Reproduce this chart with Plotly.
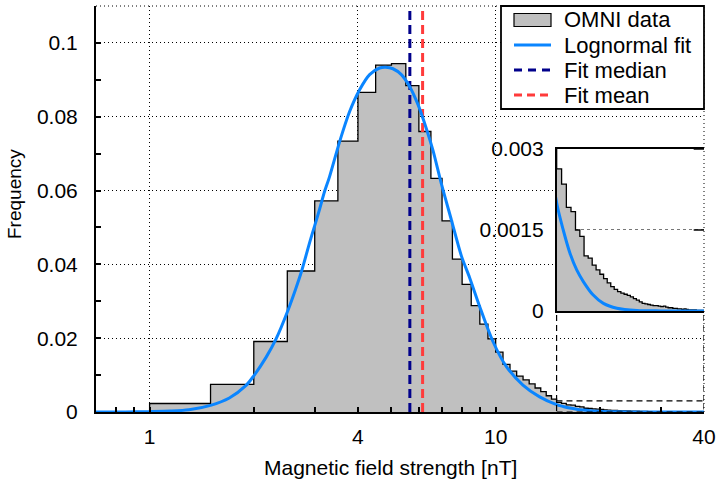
import numpy as np
import plotly.graph_objects as go

# ---------------- data ----------------
bin_start = 1.0
bin_width = 0.5
# histogram frequencies, bins of 0.5 nT starting at 1 nT (1..40 nT)
freq_core = [0.0023, 0.0075, 0.0191, 0.0382, 0.0572, 0.0734, 0.0866, 0.0940,
             0.0944, 0.0884, 0.0760, 0.0633, 0.0518, 0.0414, 0.0346, 0.0288,
             0.0238, 0.0198, 0.0162, 0.0129, 0.0111, 0.0097, 0.0087, 0.0076,
             0.0065, 0.0055, 0.0044, 0.0035]
freq_tail = [0.00263, 0.00235, 0.00192, 0.00184, 0.00150, 0.00138, 0.00102, 0.00098,
             0.00085, 0.00076, 0.00068, 0.00060, 0.00052, 0.00045, 0.00040, 0.00036,
             0.00033, 0.00031, 0.00029, 0.00026, 0.00023, 0.00020, 0.00017, 0.00014,
             0.00013, 0.00012, 0.00011, 0.00010, 0.00010, 0.00009, 0.00008, 0.00009,
             0.00007, 0.00006, 0.00006, 0.00005, 0.00005, 0.00004, 0.00004, 0.00003,
             0.00004, 0.00003, 0.00002, 0.00002, 0.00002, 0.00002, 0.00001, 0.00001,
             0.00001, 0.00001]

# lognormal fit curve
fit_x = [0.7, 0.85, 1.0, 1.15, 1.3, 1.5, 1.7, 1.9, 2.0, 2.17, 2.32, 2.51, 2.64, 2.75,
         2.9, 3.0, 3.1, 3.2, 3.31, 3.54, 3.785, 4.045, 4.323, 4.62, 4.81, 5.05, 5.34,
         5.64, 5.97, 6.3, 6.59, 6.97, 7.45, 7.96, 8.41, 8.99, 9.82, 10.74, 11.99, 13.4,
         15.0, 15.67, 16.39, 17.14, 17.93, 19.1, 20.47, 22.4, 25.6, 30.0, 35.0, 40.0]
fit_y = [0.0, 0.00001, 0.0001, 0.00025, 0.0006, 0.0018, 0.0038, 0.0072, 0.0098, 0.0148,
         0.0198, 0.0275, 0.0332, 0.0382, 0.0459, 0.0505, 0.0550, 0.0596, 0.0637, 0.0732,
         0.0814, 0.0873, 0.0914, 0.0932, 0.0934, 0.0930, 0.0914, 0.0882, 0.0832, 0.0769,
         0.0709, 0.0618, 0.0520, 0.0423, 0.0364, 0.0286, 0.0191, 0.0123, 0.0073, 0.0041,
         0.0020, 0.0015, 0.00107, 0.00076, 0.00054, 0.0003, 0.00014, 0.00005, 0.00001,
         0.000002, 0.0, 0.0]

fit_median = 5.65
fit_mean = 6.15

x_range = [0.7, 40.0]
y_range = [0.0, 0.11]
inset_x_range = [15.0, 40.0]
inset_y_range = [0.0, 0.003]

x_tickvals = [1, 4, 10, 40]
x_ticktext = ["1", "4", "10", "40"]
x_minor = [0.8, 0.9, 2, 3, 5, 6, 7, 8, 9, 20, 30]
inset_tickvals = [0, 0.0015, 0.003]
inset_ticktext = ["0", "0.0015", "0.003"]

legend_labels = ["OMNI data", "Lognormal fit", "Fit median", "Fit mean"]

# ---------------- styles ----------------
FONT = "Liberation Sans, Arial, Helvetica, sans-serif"
GREY = "#c0c0c0"
BLUE = "#0a85ff"
NAVY = "#00008b"
RED = "#ff3b3b"
DOT = "1px,3px"

freq = freq_core + freq_tail
edges = [bin_start + i * bin_width for i in range(len(freq) + 1)]
step_x = [edges[0]] + edges[:-1] + [edges[-1]]
step_y = [0.0] + freq + [freq[-1]]

fig = go.Figure()

for xa, ya in (("x", "y"), ("x2", "y2")):
    fig.add_trace(go.Scatter(x=step_x, y=step_y, mode="lines", line_shape="hv",
                             line=dict(color="black", width=1.3), fill="tozeroy",
                             fillcolor=GREY, xaxis=xa, yaxis=ya, showlegend=False,
                             hoverinfo="skip"))
    if xa == "x":
        fig.add_trace(go.Scatter(x=[fit_median, fit_median], y=y_range, mode="lines",
                                 line=dict(color=NAVY, width=3, dash="9px,5px"),
                                 showlegend=False))
        fig.add_trace(go.Scatter(x=[fit_mean, fit_mean], y=y_range, mode="lines",
                                 line=dict(color=RED, width=3, dash="9px,5px"),
                                 showlegend=False))
    fig.add_trace(go.Scatter(x=fit_x, y=fit_y, mode="lines", line_shape="spline",
                             line=dict(color=BLUE, width=3, smoothing=0.8),
                             xaxis=xa, yaxis=ya, showlegend=False))

# inset geometry (paper fractions)
inset_dx = [0.7577, 1.0]
inset_dy = [0.2488, 0.6478]

shapes = []
# white background of the inset (drawn in the inset subplot, above main grid)
shapes.append(dict(type="rect", xref="x2", yref="y2", x0=inset_x_range[0], x1=inset_x_range[1],
                   y0=inset_y_range[0], y1=inset_y_range[1], fillcolor="white",
                   line=dict(width=0), layer="below"))
# right ticks of the inset
for v in inset_tickvals[1:]:
    shapes.append(dict(type="line", xref="x2 domain", yref="y2", x0=0.93, x1=1.0, y0=v, y1=v,
                       line=dict(color="black", width=1.5), layer="above"))
# dotted top/right border of main axes
shapes.append(dict(type="line", xref="paper", yref="paper", x0=0, x1=1, y0=1, y1=1,
                   line=dict(color="black", width=1, dash=DOT), layer="above"))
shapes.append(dict(type="line", xref="paper", yref="paper", x0=1, x1=1, y0=0, y1=1,
                   line=dict(color="black", width=1, dash=DOT), layer="above"))
# zoom box and connectors
shapes.append(dict(type="rect", xref="x", yref="y", x0=inset_x_range[0], x1=inset_x_range[1],
                   y0=inset_y_range[0], y1=inset_y_range[1],
                   line=dict(color="black", width=1.2, dash="6px,4px"), layer="above"))
for xv in inset_x_range:
    shapes.append(dict(type="line", xref="x", yref="paper", x0=xv, x1=xv,
                       y0=inset_y_range[1] / y_range[1], y1=inset_dy[0],
                       line=dict(color="black", width=1.2, dash="6px,4px"), layer="above"))

# legend (manual)
def px2paper(px, py):
    return (px - 96) / 608.0, (412 - py) / 406.0

lx0, ly0 = px2paper(501, 6)
lx1, ly1 = px2paper(704, 109)
shapes.append(dict(type="rect", xref="paper", yref="paper", x0=lx0, x1=lx1, y0=ly1, y1=ly0,
                   fillcolor="white", line=dict(color="black", width=1.8), layer="above"))
row_y = [20, 45, 70, 95]
sx0, _ = px2paper(514, 0)
sx1, _ = px2paper(551, 0)
tx, _ = px2paper(562, 0)
_, r0a = px2paper(0, 13.5)
_, r0b = px2paper(0, 26.5)
shapes.append(dict(type="rect", xref="paper", yref="paper", x0=sx0, x1=sx1, y0=r0b, y1=r0a,
                   fillcolor=GREY, line=dict(color="black", width=1.2), layer="above"))
legend_styles = [None, dict(color=BLUE, width=3), dict(color=NAVY, width=3, dash="8px,6px"),
                 dict(color=RED, width=3, dash="8px,5px")]
annotations = []
for i, (lab, ry) in enumerate(zip(legend_labels, row_y)):
    _, py = px2paper(0, ry)
    if legend_styles[i] is not None:
        shapes.append(dict(type="line", xref="paper", yref="paper", x0=sx0, x1=sx1, y0=py, y1=py,
                           line=legend_styles[i], layer="above"))
    annotations.append(dict(xref="paper", yref="paper", x=tx, y=py, text=lab, showarrow=False,
                            xanchor="left", yanchor="middle",
                            font=dict(family=FONT, size=22, color="black")))

# axis titles
ax_, ay_ = px2paper(390, 467)
annotations.append(dict(xref="paper", yref="paper", x=ax_, y=ay_, text="Magnetic field strength [nT]",
                        showarrow=False, xanchor="center", yanchor="middle",
                        font=dict(family=FONT, size=21, color="black")))
bx_, by_ = px2paper(14, 194)
annotations.append(dict(xref="paper", yref="paper", x=bx_, y=by_, text="Frequency", textangle=-90,
                        showarrow=False, xanchor="center", yanchor="middle",
                        font=dict(family=FONT, size=19, color="black")))

fig.update_layout(
    width=720, height=480,
    margin=dict(l=96, r=16, t=6, b=68, autoexpand=False),
    paper_bgcolor="white", plot_bgcolor="white",
    font=dict(family=FONT, size=21, color="black"),
    showlegend=False,
    xaxis=dict(type="log", range=[np.log10(x_range[0]), np.log10(x_range[1])],
               tickmode="array", tickvals=x_tickvals, ticktext=x_ticktext,
               ticks="inside", ticklen=5, tickwidth=1.5, tickcolor="black",
               minor=dict(tickmode="array", tickvals=x_minor, ticks="inside", ticklen=5,
                          tickwidth=1.5, tickcolor="black", showgrid=False),
               showgrid=True, gridcolor="black", gridwidth=1, griddash=DOT,
               showline=True, linecolor="black", linewidth=2, zeroline=False,
               ticklabelstandoff=5, domain=[0, 1], anchor="y", automargin=False),
    yaxis=dict(range=y_range, tickmode="linear", tick0=0, dtick=0.02,
               ticks="inside", ticklen=5, tickwidth=1.5, tickcolor="black",
               minor=dict(dtick=0.01, ticks="inside", ticklen=5, tickwidth=1.5,
                          tickcolor="black", showgrid=False),
               showgrid=True, gridcolor="black", gridwidth=1, griddash=DOT,
               showline=True, linecolor="black", linewidth=2, zeroline=False,
               ticklabelstandoff=12, domain=[0, 1], anchor="x", automargin=False),
    xaxis2=dict(type="log", range=[np.log10(inset_x_range[0]), np.log10(inset_x_range[1])],
                domain=inset_dx, anchor="y2", showticklabels=False, ticks="",
                showgrid=False, showline=True, mirror=True, linecolor="black", linewidth=1.5,
                zeroline=False, automargin=False),
    yaxis2=dict(range=inset_y_range, domain=inset_dy, anchor="x2", tickmode="array",
                tickvals=inset_tickvals, ticktext=inset_ticktext, ticks="",
                showgrid=True, gridcolor="#777777", gridwidth=1, griddash="3px,3px",
                showline=True, linecolor="black", linewidth=1.5, zeroline=False,
                ticklabelstandoff=7, automargin=False),
    shapes=shapes,
    annotations=annotations,
)

fig.write_html("out.html")
